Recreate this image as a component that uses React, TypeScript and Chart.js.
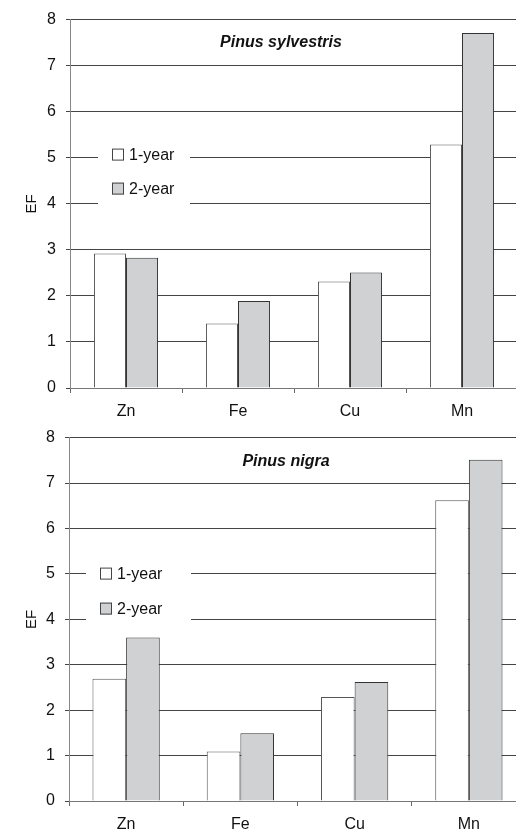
import React, { useEffect, useRef } from 'react';
import { Chart, registerables } from 'chart.js';

Chart.register(...registerables);

const categories = ['Zn', 'Fe', 'Cu', 'Mn'];
const seriesLabels = ['1-year', '2-year'];
const sylvestris1Year = [2.92, 1.40, 2.31, 5.29];
const sylvestris2Year = [2.83, 1.89, 2.51, 7.71];
const nigra1Year = [2.69, 1.09, 2.29, 6.62];
const nigra2Year = [3.60, 1.49, 2.62, 7.51];
const yMin = 0;
const yMax = 8;
const yStep = 1;
const yTitle = 'EF';
const titles = ['Pinus sylvestris', 'Pinus nigra'];

const FONT = '"Liberation Sans", Arial, Helvetica, sans-serif';
const WHITE = '#ffffff';
const GRAY = '#d0d1d3';

const overlayPlugin = {
  id: 'overlay',
  beforeDatasetsDraw(chart: any, _args: any, opts: any) {
    const { ctx, chartArea } = chart;
    ctx.save();
    // white box behind legend (hides gridlines)
    ctx.fillStyle = '#ffffff';
    ctx.fillRect(
      chartArea.left + opts.boxLeft,
      chartArea.top + opts.boxTop,
      opts.boxWidth,
      opts.boxHeight
    );
    // legend
    ctx.font = '16px ' + FONT;
    ctx.textBaseline = 'middle';
    ctx.textAlign = 'left';
    chart.data.datasets.forEach((ds: any, i: number) => {
      const bx = chartArea.left + opts.legendLeft;
      const by = chartArea.top + opts.legendTop + i * opts.legendGap;
      ctx.fillStyle = ds.backgroundColor;
      ctx.fillRect(bx, by, 12, 12);
      ctx.strokeStyle = '#444';
      ctx.lineWidth = 1;
      ctx.strokeRect(bx + 0.5, by + 0.5, 11, 11);
      ctx.fillStyle = '#111';
      ctx.fillText(ds.label, bx + 17, by + 7);
    });
    // title inside plot
    ctx.font = 'italic bold 16px ' + FONT;
    ctx.textAlign = 'center';
    ctx.fillStyle = '#111';
    ctx.fillText(opts.title, chartArea.left + opts.titleX, chartArea.top + opts.titleY);
    ctx.restore();
  },
};

function makeConfig(d1: number[], d2: number[], p: any) {
  return {
    type: 'bar' as const,
    data: {
      labels: categories,
      datasets: [
        {
          label: seriesLabels[0],
          data: d1,
          backgroundColor: WHITE,
          borderColor: '#555',
          borderWidth: 1,
          categoryPercentage: p.catPct,
          barPercentage: 1.0,
        },
        {
          label: seriesLabels[1],
          data: d2,
          backgroundColor: GRAY,
          borderColor: '#333',
          borderWidth: 1,
          categoryPercentage: p.catPct,
          barPercentage: 1.0,
        },
      ],
    },
    options: {
      responsive: false,
      animation: false as const,
      devicePixelRatio: 1,
      layout: { padding: { top: p.padTop, left: 0, right: 0, bottom: 0 } },
      plugins: {
        legend: { display: false },
        tooltip: { enabled: false },
        overlay: p.overlay,
      },
      scales: {
        x: {
          grid: {
            display: true,
            drawOnChartArea: false,
            drawTicks: true,
            tickLength: 5,
            color: '#666',
            offset: true,
          },
          border: { display: true, color: '#777', width: 1 },
          ticks: { color: '#111', font: { family: FONT, size: 16 }, padding: 9 },
          afterFit: (scale: any) => {
            scale.height = p.xHeight;
          },
        },
        y: {
          min: yMin,
          max: yMax,
          grid: { color: '#444', lineWidth: 1, tickLength: 4, drawTicks: true },
          border: { display: true, color: '#888', width: 1 },
          ticks: {
            stepSize: yStep,
            color: '#111',
            font: { family: FONT, size: 16 },
            padding: 10,
          },
          title: {
            display: true,
            text: yTitle,
            color: '#111',
            font: { family: FONT, size: 15 },
            padding: { top: 23, bottom: 0 },
          },
          afterFit: (scale: any) => {
            scale.width = p.yWidth;
          },
        },
      },
    },
    plugins: [overlayPlugin],
  };
}

function BarChart(props: { d1: number[]; d2: number[]; p: any; top: number; width: number; height: number }) {
  const ref = useRef<HTMLCanvasElement | null>(null);
  useEffect(() => {
    if (!ref.current) return;
    const chart = new Chart(ref.current, makeConfig(props.d1, props.d2, props.p) as any);
    return () => chart.destroy();
  }, []);
  return (
    <canvas
      ref={ref}
      width={props.width}
      height={props.height}
      style={{ position: 'absolute', left: 0, top: props.top, width: props.width, height: props.height }}
    />
  );
}

export default function App() {
  const topParams = {
    catPct: 0.572,
    padTop: 19,
    xHeight: 34,
    yWidth: 70,
    overlay: {
      boxLeft: 28,
      boxTop: 118,
      boxWidth: 92,
      boxHeight: 75,
      legendLeft: 42,
      legendTop: 129,
      legendGap: 34,
      title: titles[0],
      titleX: 211,
      titleY: 23,
    },
  };
  const bottomParams = {
    catPct: 0.589,
    padTop: 14,
    xHeight: 30,
    yWidth: 69,
    overlay: {
      boxLeft: 17,
      boxTop: 118,
      boxWidth: 105,
      boxHeight: 72,
      legendLeft: 31,
      legendTop: 130,
      legendGap: 35,
      title: titles[1],
      titleX: 217,
      titleY: 24,
    },
  };
  return (
    <div style={{ position: 'absolute', left: 0, top: 0, width: 516, height: 831, overflow: 'hidden', background: '#fff' }}>
      <BarChart d1={sylvestris1Year} d2={sylvestris2Year} p={topParams} top={0} width={518} height={422} />
      <BarChart d1={nigra1Year} d2={nigra2Year} p={bottomParams} top={418} width={526} height={413} />
    </div>
  );
}
